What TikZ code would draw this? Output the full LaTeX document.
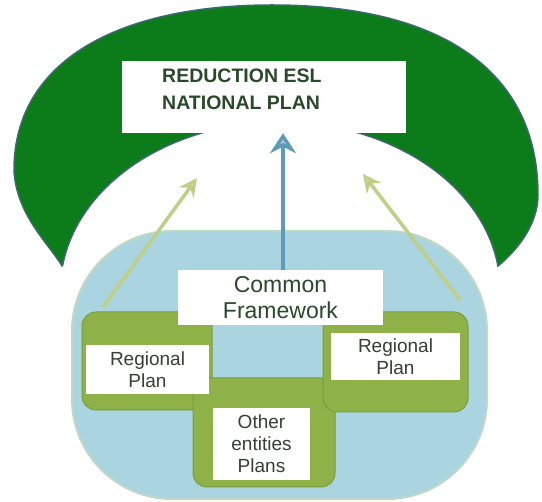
\documentclass[tikz,border=0pt]{standalone}
\usepackage{fontspec}
\setmainfont{Liberation Sans}
\usetikzlibrary{arrows.meta}
\definecolor{archgreen}{RGB}{12,124,26}
\definecolor{archedge}{RGB}{60,105,110}
\definecolor{skyfill}{RGB}{170,213,224}
\definecolor{skyedge}{RGB}{192,216,196}
\definecolor{olivefill}{RGB}{143,178,72}
\definecolor{oliveedge}{RGB}{120,158,62}
\definecolor{darktext}{RGB}{42,72,42}
\definecolor{graytext}{RGB}{55,62,55}
\definecolor{steel}{RGB}{95,155,185}
\definecolor{palesteel}{RGB}{175,205,220}
\definecolor{paleleaf}{RGB}{192,207,135}
\definecolor{paleleafin}{RGB}{225,232,195}
\begin{document}
\begin{tikzpicture}[x=1pt,y=-1pt,
  whitebox/.style={fill=white, draw=none, inner sep=0pt},
  planbox/.style={fill=olivefill, draw=oliveedge, line width=1pt, rounded corners=14pt, inner sep=0pt},
  plantext/.style={whitebox, align=center, text=graytext, font=\fontsize{19}{22}\selectfont},
  upleaf/.style={draw=paleleaf, line width=3.5pt, -{Stealth[length=18pt,width=18pt,fill=paleleafin]}},
  upsteel/.style={draw=steel, line width=4pt, -{Stealth[length=20pt,width=26pt,fill=palesteel]}}]
\useasboundingbox (0,0) rectangle (542,502);
\fill[white] (0,0) rectangle (542,502);
% green arch
\draw[archedge, line width=1.5pt, fill=archgreen, line join=miter]
  (62,266) .. controls (50,245) and (16,215) .. (14,170)
  .. controls (14,60) and (120,5) .. (272,5)
  .. controls (440,5) and (538,70) .. (538,195)
  .. controls (538,222) and (520,248) .. (498,266)
  arc[start angle=-8.2, end angle=-171.8, x radius=220, y radius=168] -- cycle;
% national plan box
\node[whitebox, minimum width=284pt, minimum height=72pt] (nat) at (264,97) {};
\node[anchor=north west, inner sep=0pt, align=left, text=darktext, font=\bfseries\fontsize{19.5}{27}\selectfont] (natlabel) at (162,69) {REDUCTION ESL\\NATIONAL PLAN};
% blue region
\draw[skyedge, line width=2pt, fill=skyfill, rounded corners=100pt] (72,231) rectangle (487,499);
% side arrows
\coordinate (lfrom) at (103,307);
\coordinate (lto) at (197,178);
\coordinate (rfrom) at (460,300);
\coordinate (rto) at (363,174);
\draw[upleaf] (lfrom) -- (lto);
\draw[upleaf] (rfrom) -- (rto);
% plan boxes
\node[planbox, minimum width=130pt, minimum height=98pt] (lg) at (147,361) {};
\node[planbox, minimum width=142pt, minimum height=109pt] (mg) at (264,432.5) {};
\node[planbox, minimum width=145pt, minimum height=100pt] (rg) at (395.5,362) {};
\node[plantext, minimum width=123pt, minimum height=49pt] (lw) at (147.5,369.5) {Regional\\Plan};
\node[plantext, minimum width=97pt, minimum height=72pt] (mw) at (261.5,444) {Other\\entities\\Plans};
\node[plantext, minimum width=129pt, minimum height=47pt] (rw) at (395.5,356.5) {Regional\\Plan};
% common framework
\node[whitebox, minimum width=205pt, minimum height=55pt, align=center, text=darktext, font=\fontsize{23}{26}\selectfont] (cf) at (280.5,297.5) {Common\\Framework};
\draw[upsteel] ([xshift=2.5pt]cf.north) -- ([xshift=2.5pt]cf.north |- nat.south);
\end{tikzpicture}
\end{document}
